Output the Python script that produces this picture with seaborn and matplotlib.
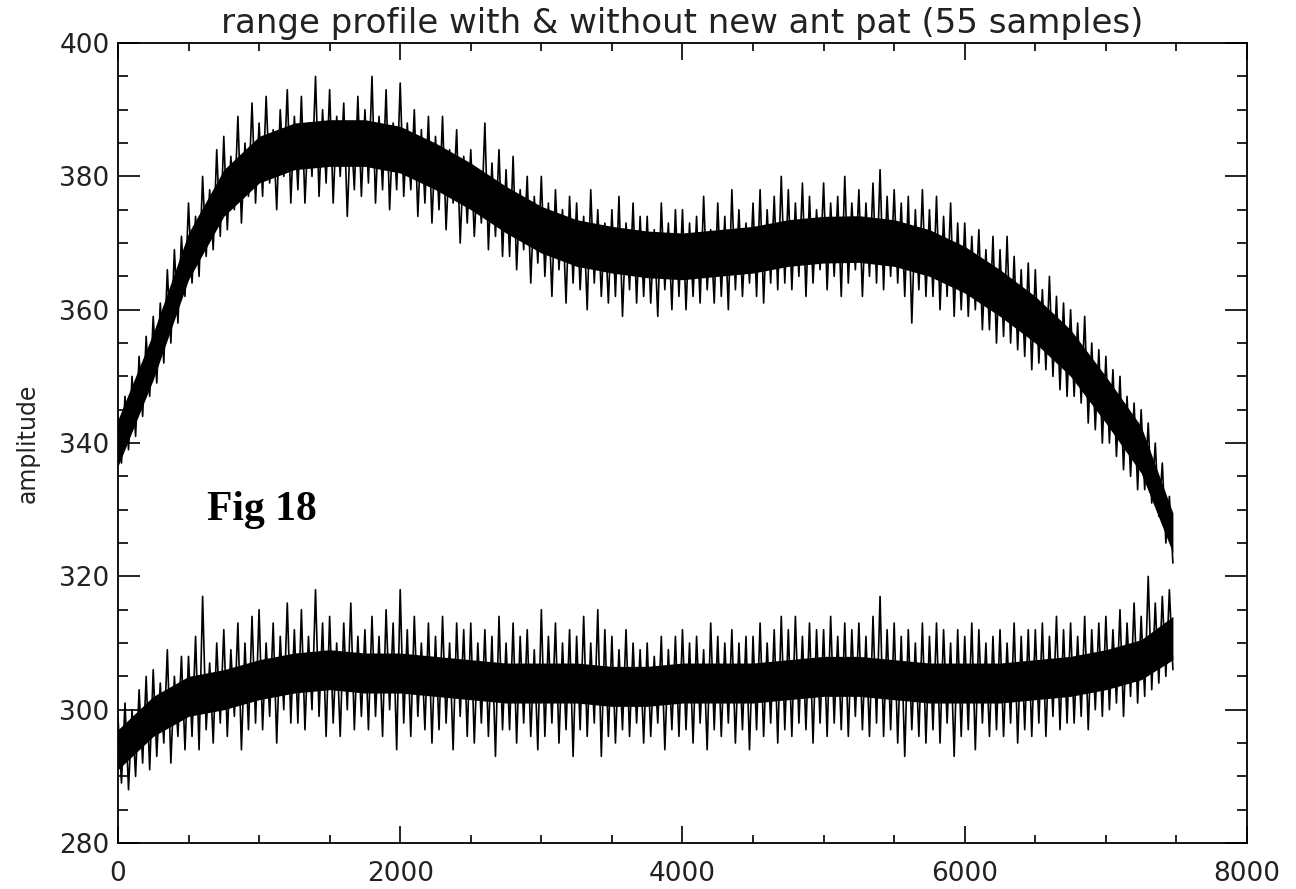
import numpy as np
import pandas as pd
import matplotlib
matplotlib.use("Agg")
import matplotlib.pyplot as plt
from matplotlib.ticker import MultipleLocator
import seaborn as sns

# ---------------- data ----------------
# sample grid of the traced extremes (every 25 samples)
spike_x = list(range(0, 7476, 25))

# "with new ant pat" trace (upper): alternating local max / min
upper_spikes = [
    344, 337, 347, 339, 350, 341, 353, 344, 356, 347,
    359, 349, 361, 352, 366, 355, 369, 358, 371, 362,
    376, 364, 374, 365, 380, 368, 378, 369, 384, 371,
    386, 372, 383, 375, 389, 373, 385, 377, 391, 376,
    388, 377, 392, 379, 387, 375, 390, 380, 393, 376,
    389, 378, 392, 376, 388, 380, 395, 377, 390, 379,
    393, 376, 389, 380, 391, 374, 388, 378, 392, 377,
    390, 379, 395, 376, 389, 378, 393, 375, 388, 378,
    394, 377, 388, 378, 390, 374, 387, 376, 389, 373,
    386, 375, 389, 372, 384, 376, 387, 370, 383, 373,
    384, 371, 381, 373, 388, 369, 382, 371, 384, 368,
    381, 368, 383, 366, 378, 369, 380, 364, 377, 367,
    380, 365, 376, 362, 378, 366, 375, 361, 377, 364,
    376, 363, 374, 360, 378, 364, 375, 362, 373, 361,
    375, 362, 377, 359, 373, 363, 376, 361, 374, 362,
    374, 361, 372, 359, 376, 363, 373, 360, 375, 362,
    375, 360, 373, 362, 374, 361, 377, 363, 372, 361,
    376, 362, 374, 360, 378, 363, 375, 362, 373, 364,
    376, 362, 378, 361, 375, 364, 377, 363, 380, 364,
    378, 363, 376, 365, 379, 362, 377, 364, 375, 366,
    379, 363, 376, 365, 377, 362, 380, 364, 376, 366,
    378, 362, 376, 365, 379, 364, 381, 363, 377, 365,
    378, 364, 376, 362, 377, 358, 375, 363, 378, 362,
    375, 362, 377, 360, 374, 362, 376, 359, 373, 360,
    373, 359, 371, 360, 372, 357, 369, 357, 371, 355,
    369, 356, 371, 355, 368, 354, 366, 353, 367, 351,
    366, 352, 363, 351, 365, 350, 362, 348, 361, 347,
    360, 347, 358, 346, 359, 343, 355, 342, 354, 340,
    353, 340, 351, 338, 350, 336, 347, 335, 346, 333,
    345, 333, 343, 331, 340, 329, 337, 325, 332, 322,
]

# "without" trace (lower): alternating local max / min
lower_spikes = [
    299, 289, 301, 288, 300, 290, 303, 292, 305, 291,
    306, 293, 304, 295, 309, 292, 305, 296, 308, 294,
    308, 296, 311, 294, 317, 297, 307, 295, 310, 298,
    312, 296, 309, 299, 313, 294, 310, 297, 314, 298,
    315, 297, 310, 299, 313, 295, 311, 300, 316, 298,
    312, 298, 315, 297, 311, 300, 318, 299, 313, 296,
    314, 298, 310, 296, 313, 300, 316, 297, 311, 299,
    312, 297, 314, 299, 311, 296, 315, 300, 313, 294,
    318, 298, 312, 296, 314, 299, 310, 297, 313, 295,
    311, 297, 314, 298, 310, 294, 313, 299, 312, 296,
    313, 295, 310, 298, 312, 296, 311, 293, 314, 297,
    310, 297, 313, 295, 311, 298, 312, 296, 309, 294,
    315, 296, 311, 298, 313, 295, 310, 297, 312, 293,
    311, 297, 314, 296, 310, 298, 315, 293, 312, 296,
    311, 295, 309, 297, 312, 296, 310, 298, 309, 295,
    310, 296, 308, 298, 311, 294, 309, 297, 311, 296,
    312, 297, 310, 295, 311, 298, 309, 294, 313, 297,
    311, 296, 310, 298, 312, 295, 310, 297, 311, 294,
    311, 297, 313, 296, 310, 298, 312, 295, 314, 297,
    312, 296, 314, 298, 311, 297, 313, 295, 312, 298,
    312, 296, 314, 298, 311, 297, 313, 296, 312, 299,
    313, 297, 311, 296, 314, 298, 317, 296, 312, 297,
    313, 295, 311, 293, 312, 297, 310, 296, 313, 295,
    311, 297, 313, 295, 312, 298, 310, 293, 312, 296,
    311, 297, 313, 294, 312, 298, 310, 296, 311, 297,
    312, 296, 310, 298, 313, 295, 311, 297, 312, 296,
    312, 298, 313, 296, 311, 299, 314, 297, 312, 298,
    313, 298, 311, 299, 314, 297, 312, 300, 313, 299,
    314, 300, 312, 301, 315, 299, 313, 302, 316, 301,
    314, 302, 320, 303, 316, 304, 317, 305, 318, 306,
]

# dense core of each trace (every 250 samples)
core_x = list(range(0, 7251, 250)) + [7475]
upper_core_lo = [336.5, 349.5, 364.5, 374, 379, 381, 381.5, 381.5, 380.5, 378,
                 375, 371.5, 368.5, 366.5, 365.5, 364.8, 364.5, 365, 365.5,
                 366.5, 367, 367.1, 366.5, 365, 362.5, 359, 355, 350, 343,
                 335.5, 323.5]
upper_core_hi = [343.5, 356.5, 371.5, 381, 386, 388, 388.5, 388.5, 387.5, 385,
                 382, 378.5, 375.5, 373.5, 372.5, 371.8, 371.5, 372, 372.5,
                 373.5, 374, 374.1, 373.5, 372, 369.5, 366, 362, 357, 350,
                 342.5, 329.5]
lower_core_lo = [291, 296, 299, 300, 301.5, 302.5, 303, 302.5, 302.5, 302,
                 301.5, 301, 301, 301, 300.5, 300.5, 301, 301, 301, 301.5,
                 302, 302, 301.5, 301, 301, 301, 301.5, 302, 303, 304.5, 307.5]
lower_core_hi = [297, 302, 305, 306, 307.5, 308.5, 309, 308.5, 308.5, 308,
                 307.5, 307, 307, 307, 306.5, 306.5, 307, 307, 307, 307.5,
                 308, 308, 307.5, 307, 307, 307, 307.5, 308, 309, 310.5, 314]

title = "range profile with & without new ant pat (55 samples)"
ylabel = "amplitude"
annot = "Fig 18"

# ---------------- plotting ----------------
sns.set_theme(style="white")
plt.rcParams["font.family"] = ["DejaVu Sans"]

fig = plt.figure(figsize=(12.96, 8.89), dpi=100)
ax = fig.add_axes([0.0910, 0.0517, 0.8712, 0.8999])

df = pd.concat([
    pd.DataFrame({"x": spike_x, "amplitude": upper_spikes, "trace": "with"}),
    pd.DataFrame({"x": spike_x, "amplitude": lower_spikes, "trace": "without"}),
])

for lo, hi in ((upper_core_lo, upper_core_hi), (lower_core_lo, lower_core_hi)):
    ax.fill_between(core_x, lo, hi, color="black", lw=0)

sns.lineplot(data=df, x="x", y="amplitude", units="trace", estimator=None,
             sort=False, color="black", lw=1.2, ax=ax, legend=False)

ax.set_xlim(0, 8000)
ax.set_ylim(280, 400)
ax.xaxis.set_major_locator(MultipleLocator(2000))
ax.xaxis.set_minor_locator(MultipleLocator(500))
ax.yaxis.set_major_locator(MultipleLocator(20))
ax.yaxis.set_minor_locator(MultipleLocator(5))

ax.tick_params(axis="both", which="both", direction="in", colors="black",
               top=True, right=True, bottom=True, left=True, width=1.2)
ax.tick_params(axis="x", which="major", length=12, pad=13, labelsize=19)
ax.tick_params(axis="x", which="minor", length=6)
ax.tick_params(axis="y", which="major", length=16, pad=6, labelsize=19)
ax.tick_params(axis="y", which="minor", length=7.5)
for lab in ax.get_xticklabels() + ax.get_yticklabels():
    lab.set_color("#222222")

for sp in ax.spines.values():
    sp.set_visible(True)
    sp.set_color("black")
    sp.set_linewidth(1.3)

ax.set_xlabel("")
ax.set_ylabel(ylabel, fontsize=17, color="#222222")
ax.yaxis.set_label_coords(-0.069, 0.5)
ax.set_title(title, fontsize=24.5, pad=7, color="#222222")

ax.text(631, 328.5, annot, fontsize=30, fontweight="bold",
        family=["Liberation Serif", "DejaVu Serif"], ha="left", va="baseline",
        color="black")

fig.savefig("out.png", dpi=100, facecolor="white")
